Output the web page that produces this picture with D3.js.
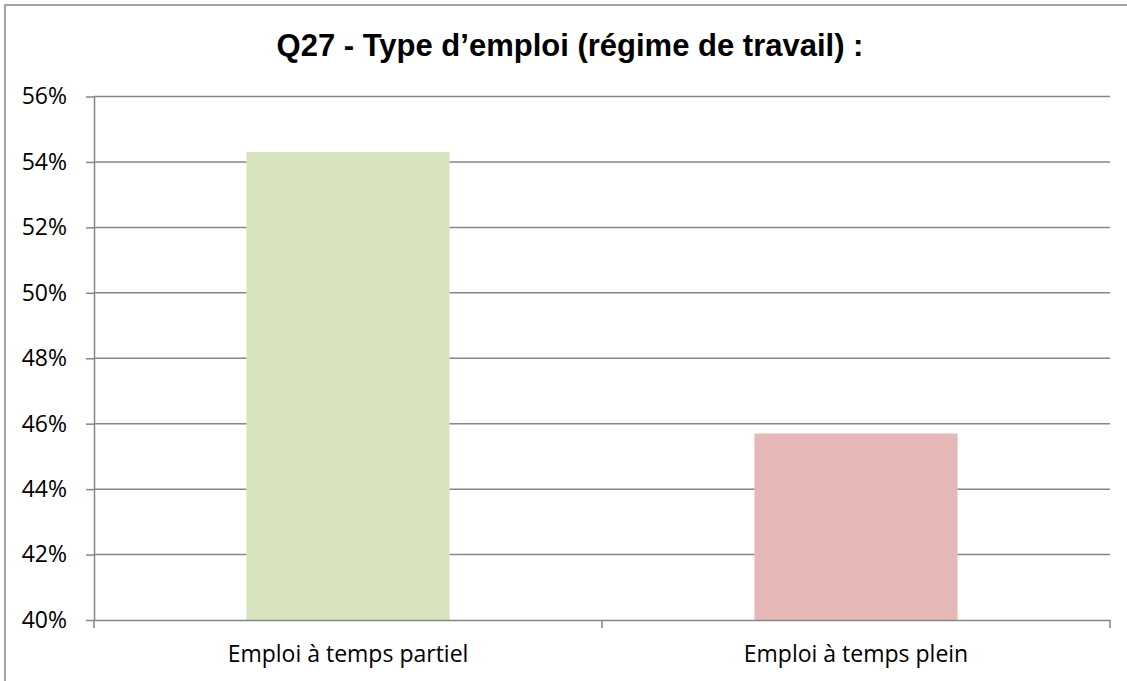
<!DOCTYPE html>
<html>
<head>
<meta charset="utf-8">
<script src="https://cdn.jsdelivr.net/npm/d3@7"></script>
<style>
  body { margin: 0; background: #fff; }
  .axis text { font-family: "Open Sans", Lato, sans-serif; font-size: 23px; fill: #000; }
  .axis path, .axis line { stroke: #868686; stroke-width: 1.5; }
</style>
</head>
<body>
<div class="content"></div>
<script>
// Data
const title = "Q27 - Type d\u2019emploi (r\u00e9gime de travail) :";
const categories = ["Emploi \u00e0 temps partiel", "Emploi \u00e0 temps plein"];
const values = [0.543, 0.457];
const colors = ["#d7e4bd", "#e6b9b8"];
const yTicks = [0.40, 0.42, 0.44, 0.46, 0.48, 0.50, 0.52, 0.54, 0.56];

// Dimensions
const W = 1127, H = 681;
const margin = { top: 96.5, right: 17, bottom: 61, left: 94 };
const width = W - margin.left - margin.right;
const height = H - margin.top - margin.bottom;

const svg = d3
  .select(".content")
  .append("svg")
  .attr("width", W)
  .attr("height", H);

// Outer frame (cropped at right/bottom)
svg
  .append("rect")
  .attr("x", 5)
  .attr("y", 5)
  .attr("width", W + 10)
  .attr("height", H + 10)
  .attr("fill", "none")
  .attr("stroke", "#868686")
  .attr("stroke-width", 1.5);

// Title
svg
  .append("text")
  .attr("x", 570)
  .attr("y", 56)
  .attr("text-anchor", "middle")
  .style("font-family", "'Liberation Sans', Arial, sans-serif")
  .style("font-weight", "bold")
  .style("font-size", "31px")
  .text(title);

const chart = svg
  .append("g")
  .attr("transform", `translate(${margin.left}, ${margin.top})`);

// Scales
const xScale = d3.scaleBand().domain(categories).range([0, width]).padding(0);
const yScale = d3.scaleLinear().domain([0.40, 0.56]).range([height, 0]);

// Gridlines
chart
  .append("g")
  .selectAll("line")
  .data(yTicks.slice(1))
  .join("line")
  .attr("x1", 0)
  .attr("x2", width)
  .attr("y1", (d) => yScale(d))
  .attr("y2", (d) => yScale(d))
  .attr("stroke", "#868686")
  .attr("stroke-width", 1.5);

// Bars
const barWidth = xScale.bandwidth() * 0.4;
chart
  .selectAll("rect.bar")
  .data(values)
  .join("rect")
  .attr("class", "bar")
  .attr("x", (d, i) => xScale(categories[i]) + (xScale.bandwidth() - barWidth) / 2)
  .attr("width", barWidth)
  .attr("y", (d) => yScale(d))
  .attr("height", (d) => yScale(0.40) - yScale(d))
  .attr("fill", (d, i) => colors[i]);

// Y Axis
const yAxis = d3
  .axisLeft(yScale)
  .tickValues(yTicks)
  .tickFormat(d3.format(".0%"))
  .tickSizeInner(8)
  .tickSizeOuter(0)
  .tickPadding(19);

chart.append("g").attr("class", "axis").call(yAxis);

// X Axis
const xAxis = d3
  .axisBottom(xScale)
  .tickSize(0)
  .tickPadding(26);

const xg = chart
  .append("g")
  .attr("class", "axis")
  .attr("transform", `translate(0, ${height})`)
  .call(xAxis);

// Boundary tick marks between categories
xg.selectAll("line.sep")
  .data([0, width / 2, width])
  .join("line")
  .attr("class", "sep")
  .attr("x1", (d) => d)
  .attr("x2", (d) => d)
  .attr("y1", 0)
  .attr("y2", 8)
  .attr("stroke", "#868686")
  .attr("stroke-width", 1.5);
</script>
</body>
</html>
